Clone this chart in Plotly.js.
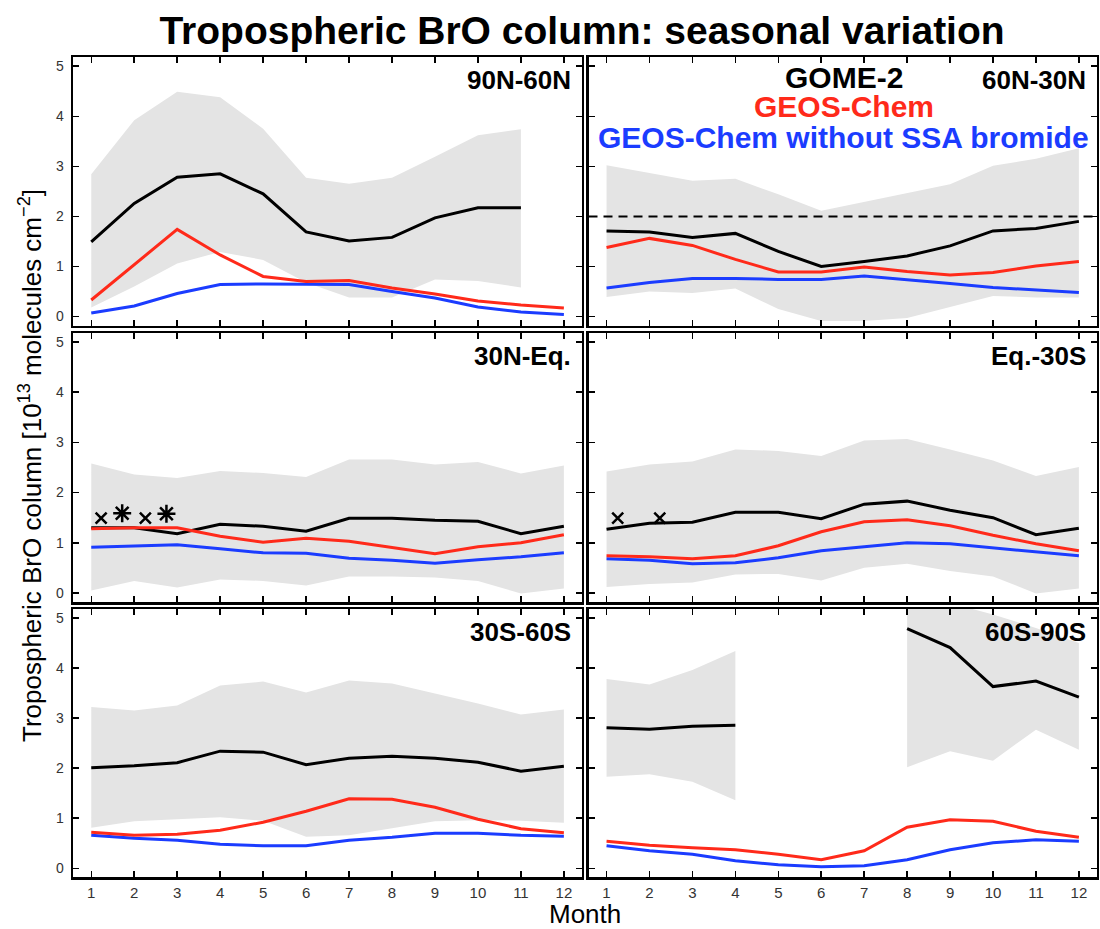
<!DOCTYPE html>
<html>
<head>
<meta charset="utf-8">
<script src="https://cdn.plot.ly/plotly-3.0.1.min.js"></script>
<style>
html,body{margin:0;padding:0;background:#fff;}
#chart{width:1100px;height:929px;}
</style>
</head>
<body>
<div id="chart"></div>
<script>
// ---------- DATA ----------
const months = [1,2,3,4,5,6,7,8,9,10,11,12];
const monthTicks = ['1','2','3','4','5','6','7','8','9','10','11','12'];
const yTicks = [0,1,2,3,4,5];

const regions = ['90N-60N','60N-30N','30N-Eq.','Eq.-30S','30S-60S','60S-90S'];

// GOME-2 observed monthly mean
const gome_90N60N = [1.49,2.26,2.78,2.85,2.45,1.69,1.51,1.58,1.97,2.17,2.17,null];
const gome_60N30N = [1.71,1.69,1.58,1.66,1.30,1.00,1.10,1.21,1.41,1.71,1.76,1.90];
const gome_30NEq  = [1.30,1.30,1.18,1.37,1.33,1.23,1.49,1.49,1.45,1.43,1.18,1.33];
const gome_Eq30S  = [1.27,1.39,1.41,1.61,1.61,1.48,1.77,1.83,1.65,1.50,1.16,1.29];
const gome_30S60S = [2.01,2.05,2.11,2.34,2.32,2.07,2.20,2.24,2.20,2.12,1.94,2.04];
const gome_60S90S = [2.81,2.78,2.84,2.86,null,null,null,4.79,4.41,3.63,3.74,3.42];

// GOME-2 variability band (upper / lower)
const gomeHi_90N60N = [2.84,3.92,4.49,4.38,3.75,2.77,2.65,2.77,3.19,3.62,3.74,null];
const gomeLo_90N60N = [0.18,0.60,1.06,1.29,1.13,0.68,0.38,0.38,0.74,0.71,0.58,null];
const gomeHi_60N30N = [3.02,2.87,2.71,2.75,2.44,2.11,2.29,2.46,2.64,3.01,3.15,3.36];
const gomeLo_60N30N = [0.39,0.50,0.47,0.56,0.15,-0.09,-0.09,-0.03,0.19,0.41,0.38,0.38];
const gomeHi_30NEq  = [2.58,2.36,2.29,2.43,2.39,2.31,2.66,2.66,2.56,2.61,2.38,2.54];
const gomeLo_30NEq  = [0.05,0.24,0.11,0.27,0.24,0.15,0.33,0.33,0.31,0.24,-0.01,0.09];
const gomeHi_Eq30S  = [2.42,2.56,2.62,2.86,2.83,2.73,3.04,3.07,2.86,2.64,2.33,2.51];
const gomeLo_Eq30S  = [0.12,0.18,0.21,0.37,0.38,0.25,0.50,0.58,0.44,0.33,-0.01,0.09];
const gomeHi_30S60S = [3.22,3.15,3.25,3.65,3.73,3.51,3.75,3.69,3.49,3.29,3.07,3.17];
const gomeLo_30S60S = [0.81,0.94,0.98,1.02,0.95,0.63,0.66,0.80,0.94,0.96,0.95,0.91];
const gomeHi_60S90S = [3.78,3.67,3.96,4.34,null,null,null,5.40,5.30,5.07,4.80,4.50];
const gomeLo_60S90S = [1.83,1.88,1.73,1.36,null,null,null,2.02,2.34,2.15,2.77,2.37];

// GEOS-Chem
const geos_90N60N = [0.33,1.04,1.74,1.23,0.80,0.70,0.72,0.57,0.45,0.31,0.23,0.17];
const geos_60N30N = [1.38,1.56,1.42,1.14,0.89,0.89,0.99,0.90,0.83,0.88,1.01,1.10];
const geos_30NEq  = [1.28,1.30,1.30,1.13,1.01,1.09,1.03,0.90,0.78,0.92,1.00,1.16];
const geos_Eq30S  = [0.74,0.72,0.68,0.74,0.94,1.22,1.42,1.46,1.34,1.15,0.98,0.84];
const geos_30S60S = [0.72,0.66,0.68,0.76,0.92,1.14,1.39,1.38,1.22,0.98,0.79,0.71];
const geos_60S90S = [0.54,0.46,0.41,0.37,0.28,0.17,0.35,0.82,0.97,0.94,0.74,0.62];

// GEOS-Chem without SSA bromide
const noSSA_90N60N = [0.07,0.21,0.46,0.64,0.65,0.64,0.64,0.50,0.37,0.19,0.09,0.04];
const noSSA_60N30N = [0.57,0.68,0.76,0.76,0.74,0.74,0.81,0.74,0.66,0.58,0.53,0.48];
const noSSA_30NEq  = [0.91,0.94,0.96,0.88,0.80,0.79,0.69,0.65,0.59,0.66,0.72,0.80];
const noSSA_Eq30S  = [0.68,0.65,0.58,0.60,0.70,0.84,0.92,1.00,0.98,0.90,0.83,0.74];
const noSSA_30S60S = [0.66,0.60,0.56,0.48,0.45,0.45,0.56,0.62,0.70,0.70,0.66,0.64];
const noSSA_60S90S = [0.45,0.35,0.28,0.15,0.07,0.03,0.05,0.17,0.37,0.51,0.57,0.54];

// extra symbols (x and asterisk) in tropical panels
const crossX_30NEq = [1.23,2.26];
const crossY_30NEq = [1.49,1.49];
const starX_30NEq  = [1.72,2.75];
const starY_30NEq  = [1.59,1.58];
const crossX_Eq30S = [1.26,2.24];
const crossY_Eq30S = [1.49,1.49];

// reference level in 60N-30N panel
const refLevel_60N30N = 2;

const legendLabels = ['GOME-2','GEOS-Chem','GEOS-Chem without SSA bromide'];

const gomeAll  = [gome_90N60N,gome_60N30N,gome_30NEq,gome_Eq30S,gome_30S60S,gome_60S90S];
const hiAll    = [gomeHi_90N60N,gomeHi_60N30N,gomeHi_30NEq,gomeHi_Eq30S,gomeHi_30S60S,gomeHi_60S90S];
const loAll    = [gomeLo_90N60N,gomeLo_60N30N,gomeLo_30NEq,gomeLo_Eq30S,gomeLo_30S60S,gomeLo_60S90S];
const geosAll  = [geos_90N60N,geos_60N30N,geos_30NEq,geos_Eq30S,geos_30S60S,geos_60S90S];
const noSSAAll = [noSSA_90N60N,noSSA_60N30N,noSSA_30NEq,noSSA_Eq30S,noSSA_30S60S,noSSA_60S90S];

// ---------- STYLE ----------
const FONT = 'Liberation Sans, Arial, Helvetica, sans-serif';
const RED = '#ff2a1a';
const BLUE = '#1b3cff';
const SHADE = '#e4e4e4';

const W = 1100, H = 929;
const colX = [[73.2,581.5],[588.5,1096.5]];
const rowY = [[57.2,325.5],[333,602],[609,877.3]];

const traces = [];
const layout = {
  width: W, height: H,
  margin: {l:0,r:0,t:0,b:0},
  paper_bgcolor: '#fff', plot_bgcolor: 'rgba(0,0,0,0)',
  showlegend: false,
  font: {family: FONT, color: '#000'},
  title: {
    text: '<b>Tropospheric BrO column: seasonal variation</b>',
    font: {family: FONT, size: 39, color: '#000'},
    x: 582/W, xanchor: 'center', xref: 'paper',
    y: 1 - 30/H, yanchor: 'middle', yref: 'paper'
  },
  annotations: [],
  shapes: []
};

function splitSegments(hi, lo) {
  const segs = [];
  let cur = null;
  for (let i = 0; i < months.length; i++) {
    if (hi[i] === null || lo[i] === null) { cur = null; continue; }
    if (!cur) { cur = {x:[],hi:[],lo:[]}; segs.push(cur); }
    cur.x.push(months[i]); cur.hi.push(hi[i]); cur.lo.push(lo[i]);
  }
  return segs;
}

for (let p = 0; p < 6; p++) {
  const n = p + 1;
  const xa = n === 1 ? 'x' : 'x' + n;
  const ya = n === 1 ? 'y' : 'y' + n;
  const col = p % 2, row = Math.floor(p / 2);

  // band
  splitSegments(hiAll[p], loAll[p]).forEach(s => {
    traces.push({
      x: s.x.concat(s.x.slice().reverse()),
      y: s.hi.concat(s.lo.slice().reverse()),
      xaxis: xa, yaxis: ya, type: 'scatter', mode: 'lines',
      fill: 'toself', fillcolor: SHADE, line: {width: 0, color: SHADE},
      hoverinfo: 'skip'
    });
  });
  traces.push({x: months, y: gomeAll[p], xaxis: xa, yaxis: ya, type: 'scatter', mode: 'lines',
    line: {color: '#000', width: 3}, connectgaps: false, name: legendLabels[0]});
  traces.push({x: months, y: noSSAAll[p], xaxis: xa, yaxis: ya, type: 'scatter', mode: 'lines',
    line: {color: BLUE, width: 3}, name: legendLabels[2]});
  traces.push({x: months, y: geosAll[p], xaxis: xa, yaxis: ya, type: 'scatter', mode: 'lines',
    line: {color: RED, width: 3}, name: legendLabels[1]});

  const axCommon = {
    showgrid: false, zeroline: false, showline: true, linecolor: '#000', linewidth: 2.5,
    mirror: 'ticks', ticks: 'inside', ticklen: 6, tickwidth: 1.5, tickcolor: '#000',
    fixedrange: true
  };
  layout['xaxis' + (n === 1 ? '' : n)] = Object.assign({}, axCommon, {
    domain: [colX[col][0]/W, colX[col][1]/W],
    anchor: ya, range: [0.58, 12.41],
    tickvals: months, ticktext: monthTicks,
    showticklabels: row === 2,
    tickfont: {family: FONT, size: 15, color: '#333'}
  });
  layout['yaxis' + (n === 1 ? '' : n)] = Object.assign({}, axCommon, {
    domain: [1 - rowY[row][1]/H, 1 - rowY[row][0]/H],
    anchor: xa, range: [-0.18, 5.18],
    tickvals: yTicks,
    showticklabels: col === 0,
    tickfont: {family: FONT, size: 14, color: '#333'},
    ticklabelstandoff: 4
  });

  // region label
  layout.annotations.push({
    text: '<b>' + regions[p] + '</b>',
    xref: xa + ' domain', yref: ya + ' domain',
    x: 1 - 9/(colX[col][1]-colX[col][0]), y: 1 - 23/(rowY[row][1]-rowY[row][0]),
    xanchor: 'right', yanchor: 'middle', showarrow: false,
    font: {family: FONT, size: 26, color: '#000'}
  });
}

// symbols
traces.push({x: crossX_30NEq, y: crossY_30NEq, xaxis: 'x3', yaxis: 'y3', type: 'scatter', mode: 'markers',
  marker: {symbol: 'x-thin-open', size: 11, line: {width: 2.5, color: '#000'}, color: '#000'}});
traces.push({x: starX_30NEq, y: starY_30NEq, xaxis: 'x3', yaxis: 'y3', type: 'scatter', mode: 'markers',
  marker: {symbol: 'asterisk-open', size: 15, line: {width: 2.5, color: '#000'}, color: '#000'}});
traces.push({x: crossX_Eq30S, y: crossY_Eq30S, xaxis: 'x4', yaxis: 'y4', type: 'scatter', mode: 'markers',
  marker: {symbol: 'x-thin-open', size: 11, line: {width: 2.5, color: '#000'}, color: '#000'}});

// reference dashed line
layout.shapes.push({type: 'line', xref: 'x2 domain', yref: 'y2', x0: 0, x1: 1,
  y0: refLevel_60N30N, y1: refLevel_60N30N, line: {color: '#000', width: 2, dash: '9px,6px'}});

// legend text in top-right panel
const legColors = ['#000', RED, BLUE];
const legY = [77, 107, 137];
legendLabels.forEach((t, i) => {
  layout.annotations.push({
    text: '<b>' + t + '</b>', xref: 'paper', yref: 'paper',
    x: 844/W, y: 1 - legY[i]/H, xanchor: 'center', yanchor: 'middle', showarrow: false,
    font: {family: FONT, size: 30, color: legColors[i]}
  });
});

// axis titles
layout.annotations.push({
  text: 'Tropospheric BrO column [10<sup>13</sup> molecules cm<sup>−2</sup>]',
  xref: 'paper', yref: 'paper', x: 30/W, y: 1 - 466/H, textangle: -90,
  xanchor: 'center', yanchor: 'middle', showarrow: false,
  font: {family: FONT, size: 26, color: '#000'}
});
layout.annotations.push({
  text: 'Month', xref: 'paper', yref: 'paper', x: 585/W, y: 1 - 914/H,
  xanchor: 'center', yanchor: 'middle', showarrow: false,
  font: {family: FONT, size: 26, color: '#000'}
});

Plotly.newPlot('chart', traces, layout, {staticPlot: true, displayModeBar: false});
</script>
</body>
</html>
